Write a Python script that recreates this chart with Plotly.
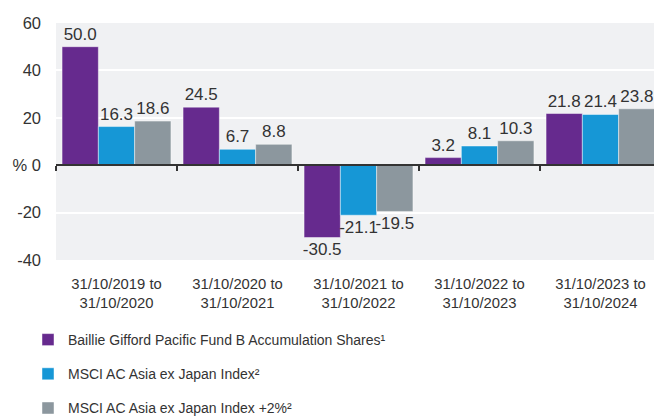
import plotly.graph_objects as go

categories = ["31/10/2019 to<br>31/10/2020", "31/10/2020 to<br>31/10/2021",
              "31/10/2021 to<br>31/10/2022", "31/10/2022 to<br>31/10/2023",
              "31/10/2023 to<br>31/10/2024"]
fund = [50.0, 24.5, -30.5, 3.2, 21.8]
index = [16.3, 6.7, -21.1, 8.1, 21.4]
index_plus = [18.6, 8.8, -19.5, 10.3, 23.8]
series_names = ["Baillie Gifford Pacific Fund B Accumulation Shares¹",
                "MSCI AC Asia ex Japan Index²",
                "MSCI AC Asia ex Japan Index +2%²"]
colors = ["#662a8e", "#1697d6", "#8c979e"]
y_ticks = [-40, -20, 0, 20, 40, 60]
y_ticktext = ["-40", "-20", "% 0", "20", "40", "60"]

FONT = "Liberation Sans, Arial, sans-serif"
TXT = "#333333"

fig = go.Figure()
for i, (name, vals, col) in enumerate(zip(series_names, [fund, index, index_plus], colors)):
    fig.add_trace(go.Bar(
        x=list(range(len(categories))), y=vals, name=name,
        marker=dict(color=col, line=dict(color="rgba(255,255,255,0.45)", width=1)),
        text=[f"{v:.1f}" for v in vals], textposition="outside",
        textfont=dict(size=17, color=TXT, family=FONT),
        constraintext="none", cliponaxis=False,
        legendgroup=f"g{i}",
    ))

fig.update_layout(
    width=662, height=416,
    margin=dict(l=48, r=9, t=15, b=164, autoexpand=False),
    plot_bgcolor="#f0f1f3", paper_bgcolor="white",
    barmode="group", bargap=0.1, bargroupgap=0,
    font=dict(family=FONT, size=15, color=TXT),
    xaxis=dict(range=[-0.5, 4.5], tickvals=list(range(len(categories))),
               ticktext=categories, showgrid=False, zeroline=False,
               ticks="", tickangle=0, ticklabelstandoff=13,
               tickfont=dict(size=14.8, color=TXT)),
    xaxis2=dict(overlaying="x", anchor="free", position=0.4, side="bottom",
                range=[-0.5, 4.5], tickvals=[-0.5, 0.5, 1.5, 2.5, 3.5, 4.5],
                showticklabels=False, ticks="outside", ticklen=5, tickwidth=1.5,
                tickcolor="#333333", showline=True, linecolor="#333333",
                linewidth=1.5, showgrid=False, zeroline=False),
    yaxis=dict(range=[-40, 60], tickvals=y_ticks, ticktext=y_ticktext,
               gridcolor="white", gridwidth=2, zeroline=False,
               tickfont=dict(size=16.5, color=TXT), ticklabelstandoff=14),
    legend=dict(xref="container", yref="container", x=20/662, y=1-316/416,
                xanchor="left", yanchor="top", tracegroupgap=13,
                font=dict(size=14, color=TXT), itemwidth=30,
                bgcolor="rgba(0,0,0,0)"),
    showlegend=True,
)
fig.add_trace(go.Scatter(x=[-0.5, 4.5], y=[0, 0], xaxis="x2", mode="lines",
                         line=dict(width=0), hoverinfo="skip", showlegend=False))

fig.write_html("out.html")
